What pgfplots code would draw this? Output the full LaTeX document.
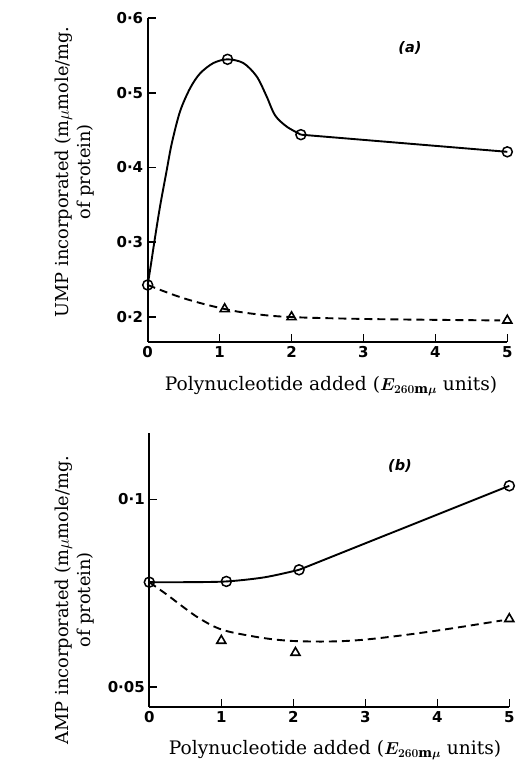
\documentclass[border=0pt]{standalone}
\usepackage{fontspec}
\usepackage{pgfplots}
\pgfplotsset{compat=1.18}
\usepackage{bm}
\setmainfont{DejaVu Serif}
\newfontfamily\tickfont{DejaVu Sans}

\pgfplotsset{
  panel/.style={
    scale only axis,
    axis lines*=left,
    axis line style={line width=1.8pt,-},
    tick align=inside,
    major tick length=8pt,
    every tick/.style={line width=1.6pt,black},
    clip=false,
    xmin=0, xmax=5,
    xtick={0,1,2,3,4,5},
    xticklabels={0,1,2,3,4,5},
    ticklabel style={font=\tickfont\bfseries\fontsize{15}{15}\selectfont},
    yticklabel style={xshift=-1pt},
    xticklabel style={yshift=-1pt},
  },
  curve/.style={black, line width=1.9pt, no marks},
  dcurve/.style={black, line width=1.9pt, no marks, dash pattern=on 8pt off 5pt},
  circ/.style={only marks, mark=o, mark size=5pt, mark options={fill=white, line width=1.5pt}},
  tri/.style={only marks, mark=triangle, mark size=5.2pt, mark options={fill=white, line width=1.6pt}},
}

\begin{document}
\begin{tikzpicture}
\path[use as bounding box] (0,0) rectangle (515pt,762pt);

% (a) UMP incorporation
\begin{axis}[panel,
  at={(147.7pt,420.3pt)}, anchor=south west,
  width=359.6pt, height=323.4pt,
  ymin=0.1665, ymax=0.6,
  ytick={0.2,0.3,0.4,0.5,0.6},
  yticklabels={0·2,0·3,0·4,0·5,0·6}]
  \addplot[curve, smooth, tension=0.5] coordinates {
    (0,0.2425) (0.045,0.270) (0.092,0.300) (0.17,0.347) (0.26,0.394)
    (0.334,0.432) (0.449,0.475) (0.588,0.506) (0.727,0.526) (0.913,0.540)
    (1.11,0.545) (1.33,0.540) (1.516,0.522) (1.655,0.495) (1.77,0.470)
    (1.93,0.455) (2.13,0.444)};
  \addplot[curve] coordinates {(2.13,0.444) (5,0.421)};
  \addplot[dcurve, smooth, tension=0.6] coordinates {
    (0,0.2425) (0.5,0.2247) (1.07,0.2103) (1.5,0.2035) (2.0,0.1995)
    (3,0.1970) (4,0.1958) (4.9,0.1950)};
  \addplot[circ] coordinates {(0,0.2425) (1.11,0.545) (2.13,0.444) (5,0.421)};
  \addplot[tri] coordinates {(1.07,0.2103) (2.0,0.1995) (5,0.1950)};
\end{axis}

% (b) AMP incorporation
\begin{axis}[panel,
  at={(149.3pt,55.3pt)}, anchor=south west,
  width=360pt, height=273.4pt,
  ymin=0.0447, ymax=0.1176,
  ytick={0.05,0.1},
  yticklabels={0·05,0·1}]
  \addplot[curve, smooth, tension=0.5] coordinates {
    (0,0.0779) (0.5,0.0779) (1.07,0.0781) (1.6,0.0792) (2.08,0.0812)};
  \addplot[curve] coordinates {(2.08,0.0812) (5,0.1036)};
  \addplot[dcurve, smooth, tension=0.6] coordinates {
    (0,0.0779) (0.25,0.0745) (0.47,0.0713) (0.7,0.0682) (1.0,0.0653)
    (1.4,0.0636) (1.8,0.0625) (2.2,0.0621) (2.7,0.0622) (3.2,0.0630)
    (4,0.0650) (4.9,0.0677)};
  \addplot[circ] coordinates {(0,0.0779) (1.07,0.0781) (2.08,0.0812) (5,0.1036)};
  \addplot[tri] coordinates {(1,0.0623) (2.03,0.0591) (5,0.0681)};
\end{axis}

% axis titles and panel letters
\node[rotate=90, align=center, font=\fontsize{17.8}{22}\selectfont] at (75pt,590pt)
  {UMP incorporated (m$\mu$mole/mg.\\of protein)};
\node[rotate=90, align=center, font=\fontsize{17.8}{22}\selectfont] at (75pt,162pt)
  {AMP incorporated (m$\mu$mole/mg.\\of protein)};
\node[font=\fontsize{18.6}{20}\selectfont] at (331pt,376pt)
  {Polynucleotide added ($\bm{E_{260\mathrm{m}\mu}}$ units)};
\node[font=\fontsize{18.6}{20}\selectfont] at (335pt,12pt)
  {Polynucleotide added ($\bm{E_{260\mathrm{m}\mu}}$ units)};
\node[font=\tickfont\bfseries\itshape\fontsize{14.5}{14.5}\selectfont] at (410pt,714pt) {(a)};
\node[font=\tickfont\bfseries\itshape\fontsize{14.5}{14.5}\selectfont] at (400pt,296pt) {(b)};
\end{tikzpicture}
\end{document}
